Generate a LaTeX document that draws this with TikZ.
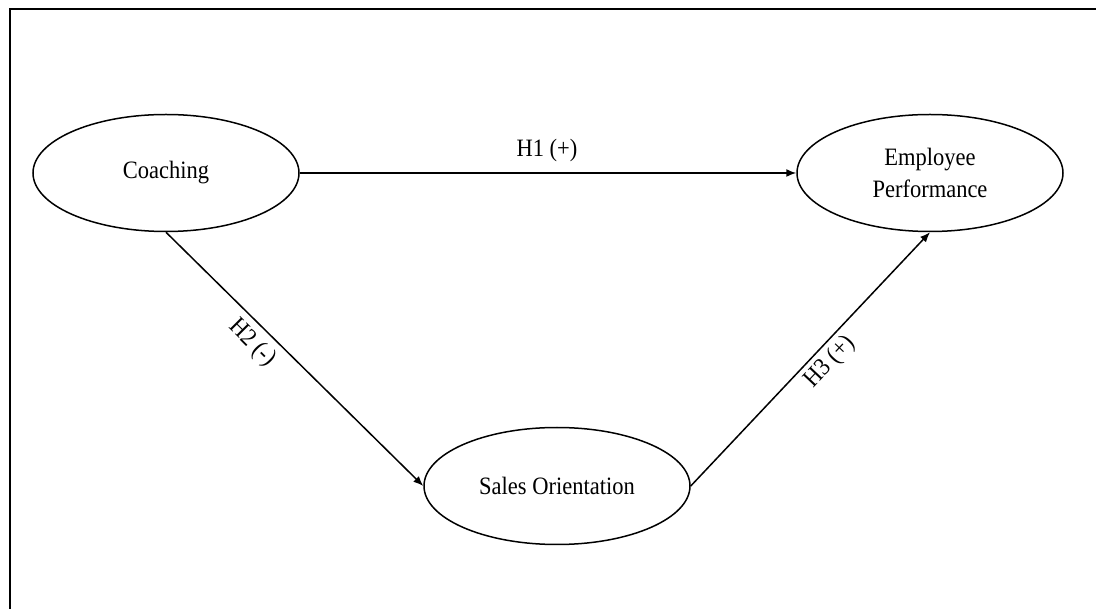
\documentclass[tikz,border=0pt]{standalone}
\usepackage{fontspec}
\setmainfont{Liberation Serif}[FakeStretch=0.9]
\usetikzlibrary{shapes.geometric,arrows.meta}
\begin{document}
\begin{tikzpicture}[x=1pt,y=-1pt,
  construct/.style={ellipse,draw=black,line width=1.5pt,minimum width=266pt,minimum height=117pt,inner sep=0pt,align=center,font=\fontsize{25}{32}\selectfont},
  path/.style={draw=black,line width=1.5pt,-{Latex[length=10pt,width=8pt]}},
  hyp/.style={font=\fontsize{25}{30}\selectfont,inner sep=0pt}]
\useasboundingbox (0,0) rectangle (1096,609);
\fill[white] (0,0) rectangle (1096,609);
\draw[line width=2pt] (1096,9) -- (10,9) -- (10,609);
\node[construct] (coach) at (166,173) {Coaching};
\node[construct] (perf) at (930,173) {Employee\\Performance};
\node[construct] (sales) at (557,486) {Sales Orientation};
\draw[path] (coach.east) -- (perf.west);
\draw[path] (coach.south) -- (sales.west);
\draw[path] (sales.east) -- (perf.south);
\node[hyp] (h1) at (547,150) {H1 (+)};
\node[hyp,rotate=-45] (h2) at (252,343) {H2 (-)};
\node[hyp,rotate=46.7] (h3) at (830,362) {H3 (+)};
\end{tikzpicture}
\end{document}
